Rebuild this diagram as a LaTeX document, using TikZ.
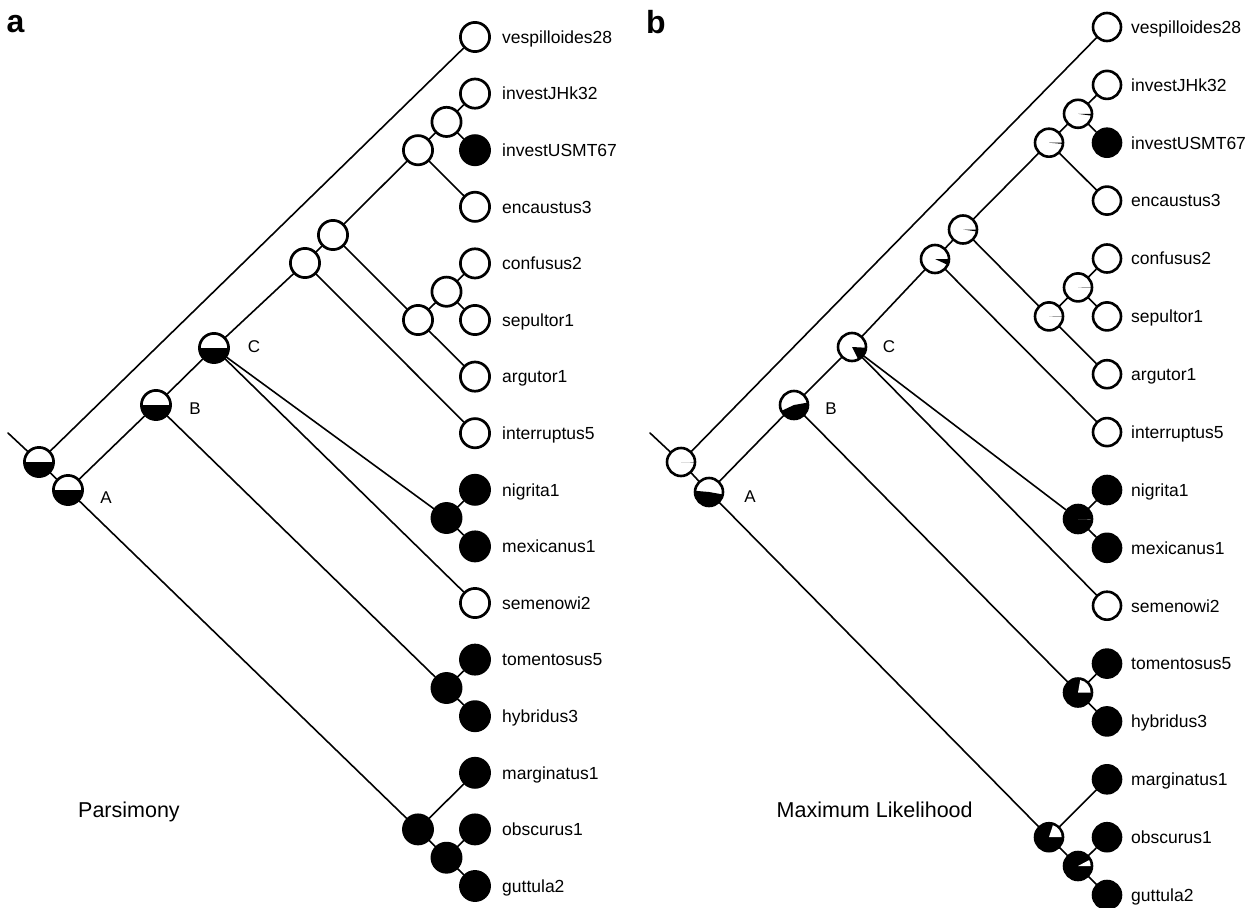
\documentclass[tikz,border=0pt]{standalone}
\usepackage{fontspec}
\setmainfont{Liberation Sans}
\usetikzlibrary{backgrounds}

% black pie wedge inside a node, visual angles counter-clockwise from east
\newcommand\blackwedge[4]{\fill[black] (#1.center) -- ++(-#2:#4) arc[start angle=-#2, end angle=-#3, radius=#4] -- cycle;}
\newcommand\whitewedge[4]{\fill[white] (#1.center) -- ++(-#2:#4) arc[start angle=-#2, end angle=-#3, radius=#4] -- cycle;}

\tikzset{
  edge/.style={line width=1.6pt, line cap=round},
  wa/.style={circle, draw=black, fill=white, line width=2.7pt, minimum size=29.2pt, inner sep=0pt},
  ba/.style={wa, fill=black},
  wb/.style={circle, draw=black, fill=white, line width=2.6pt, minimum size=28pt, inner sep=0pt},
  bb/.style={wb, fill=black},
  taxon/.style={anchor=base west, inner sep=0pt, font=\fontsize{17.5}{20}\selectfont},
  cladelbl/.style={anchor=center, inner sep=0pt, font=\fontsize{17}{20}\selectfont},
  methodlbl/.style={anchor=base west, inner sep=0pt, font=\fontsize{21.5}{24}\selectfont},
  panellbl/.style={anchor=base west, inner sep=0pt, font=\fontsize{32}{34}\selectfont\bfseries},
}

\begin{document}
\begin{tikzpicture}[x=1pt, y=-1pt]
\useasboundingbox (0,0) rectangle (1252,907);

% ---------------- panel a: parsimony ----------------
\foreach \y/\nm/\lbl/\st in {
  37/vesp/vespilloides28/wa, 93.6/jhk/investJHk32/wa, 150.2/usmt/investUSMT67/ba,
  206.8/enc/encaustus3/wa, 263.4/conf/confusus2/wa, 320/sep/sepultor1/wa,
  376.6/arg/argutor1/wa, 433.2/int/interruptus5/wa, 489.8/nig/nigrita1/ba,
  546.4/mex/mexicanus1/ba, 603/sem/semenowi2/wa, 659.6/tom/tomentosus5/ba,
  716.2/hyb/hybridus3/ba, 772.8/mar/marginatus1/ba, 829.4/obs/obscurus1/ba,
  886/gut/guttula2/ba} {
  \node[\st] (a-\nm) at (475,\y) {};
  \node[taxon] (a-\nm-l) at (502,\y+6.3) {\lbl};
}
\foreach \x/\y/\nm/\st in {
  446.5/121.9/n4/wa, 418/150.2/n3/wa, 446.5/291.7/n5/wa, 418/320/n6/wa,
  333/235/n2/wa, 305/263/n1/wa, 214/348/C/wa, 156/405/B/wa, 68/490/A/wa,
  39/462/root/wa, 446.5/518/n7/ba, 446.5/688/n8/ba, 418/829.4/n9/ba,
  446.5/857.7/n10/ba} {
  \node[\st] (a-\nm) at (\x,\y) {};
}
\coordinate (a-stem) at (8,433);
\foreach \nm in {root,A,B,C} { \blackwedge{a-\nm}{180}{360}{14.6} }

\node[cladelbl] (a-A-l) at (106,498) {A};
\node[cladelbl] (a-B-l) at (195,409) {B};
\node[cladelbl] (a-C-l) at (254,347) {C};
\node[panellbl] (a-title) at (6.5,32.5) {a};
\node[methodlbl] (a-method) at (78,817) {Parsimony};

% ---------------- panel b: maximum likelihood ----------------
\foreach \y/\nm/\lbl/\st in {
  27/vesp/vespilloides28/wb, 84.9/jhk/investJHk32/wb, 142.7/usmt/investUSMT67/bb,
  200.6/enc/encaustus3/wb, 258.5/conf/confusus2/wb, 316.4/sep/sepultor1/wb,
  374.2/arg/argutor1/wb, 432.1/int/interruptus5/wb, 490/nig/nigrita1/bb,
  547.8/mex/mexicanus1/bb, 605.7/sem/semenowi2/wb, 663.6/tom/tomentosus5/bb,
  721.4/hyb/hybridus3/bb, 779.3/mar/marginatus1/bb, 837.2/obs/obscurus1/bb,
  895/gut/guttula2/bb} {
  \node[\st] (b-\nm) at (1107,\y) {};
  \node[taxon] (b-\nm-l) at (1131,\y+6.3) {\lbl};
}
\foreach \x/\y/\nm/\st in {
  1078/113.8/n4/wb, 1049/142.7/n3/wb, 1078/287.4/n5/wb, 1049/316.4/n6/wb,
  963/229.5/n2/wb, 935/259/n1/wb, 852/347/C/wb, 794/405/B/wb, 709/492/A/wb,
  681/462/root/wb, 1078/519/n7/bb, 1078/692.5/n8/bb, 1049/837.2/n9/bb,
  1078/866/n10/bb} {
  \node[\st] (b-\nm) at (\x,\y) {};
}
\coordinate (b-stem) at (650,433);

% ancestral state probabilities
\blackwedge{b-root}{358.5}{360}{14}
\blackwedge{b-A}{175}{350}{14}
\blackwedge{b-B}{205}{370}{14}
\blackwedge{b-C}{297}{357}{14}
\blackwedge{b-n1}{335}{360}{14}
\blackwedge{b-n2}{352}{360}{14}
\blackwedge{b-n3}{355}{360}{14}
\blackwedge{b-n4}{352}{360}{14}
\blackwedge{b-n5}{358.5}{360}{14}
\blackwedge{b-n6}{358.5}{360}{14}
\whitewedge{b-n7}{358.5}{360}{12.6}
\whitewedge{b-n8}{0}{80}{12.6}
\whitewedge{b-n9}{0}{72}{12.6}
\whitewedge{b-n10}{0}{28}{12.6}

\node[cladelbl] (b-A-l) at (750,497) {A};
\node[cladelbl] (b-B-l) at (831,409) {B};
\node[cladelbl] (b-C-l) at (889,347) {C};
\node[panellbl] (b-title) at (646,33.5) {b};
\node[methodlbl] (b-method) at (776.5,817) {Maximum Likelihood};

% ---------------- branches ----------------
\begin{scope}[on background layer]
\foreach \p in {a,b} {
  \foreach \u/\v in {root/vesp, root/stem, root/A, A/B, A/n9, B/C, B/n8,
      C/n1, C/n7, C/sem, n1/n2, n1/int, n2/n3, n2/n6, n3/n4, n3/enc,
      n4/jhk, n4/usmt, n6/n5, n6/arg, n5/conf, n5/sep, n7/nig, n7/mex,
      n8/tom, n8/hyb, n9/mar, n9/n10, n10/obs, n10/gut} {
    \draw[edge] (\p-\u.center) -- (\p-\v);
  }
}
\end{scope}
\end{tikzpicture}
\end{document}
